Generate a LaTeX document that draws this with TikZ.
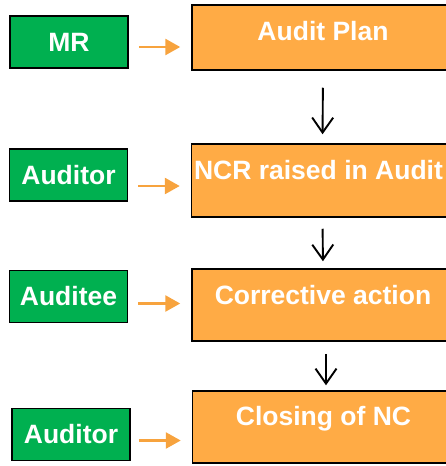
\documentclass[tikz,border=0pt]{standalone}
\usepackage{fontspec}
\setmainfont{Liberation Sans}
\usetikzlibrary{arrows.meta}
\definecolor{rolegreen}{HTML}{00B050}
\definecolor{stageorange}{HTML}{FFAB45}
\definecolor{feedorange}{HTML}{F7A33E}
\begin{document}
\begin{tikzpicture}[x=1pt,y=-1pt,
  role/.style={draw=black,line width=1.5pt,fill=rolegreen,text=white,
    minimum width=118pt,minimum height=52pt,inner sep=0pt,
    font=\fontsize{26.5}{30}\selectfont\bfseries},
  stage/.style={draw=black,line width=1.5pt,fill=stageorange,
    minimum width=262pt,inner sep=0pt},
  stagetext/.style={text=white,inner sep=0pt,anchor=base,
    font=\fontsize{26.5}{30}\selectfont\bfseries},
  flow/.style={-{Straight Barb[length=15pt,width=21pt]},line width=1.9pt},
  feed/.style={-{Triangle[length=15pt,width=16pt]},line width=2.7pt,
    draw=feedorange,shorten <=10pt,shorten >=11pt}]
\useasboundingbox (0,0) rectangle (446,466);
\clip (0,0) rectangle (446,466);

\node[role] (mr) at (69,42) {MR};
\node[role] (auditor) at (68.5,175) {Auditor};
\node[role] (auditee) at (68.5,296.5) {Auditee};
\node[role] (closer) at (71,434.5) {Auditor};

\node[stage,minimum height=65pt] (plan) at (323,37.5) {};
\node[stage,minimum height=73pt] (ncr) at (322.5,180.5) {};
\node[stage,minimum height=72pt] (action) at (323,305) {};
\node[stage,minimum height=72pt] (closing) at (323.5,427) {};

\node[stagetext] (plantext) at ([yshift=-36pt]plan.north) {Audit Plan};
\node[stagetext] (ncrtext) at ([xshift=-4pt,yshift=-36.5pt]ncr.north) {NCR raised in Audit};
\node[stagetext] (actiontext) at ([yshift=-36pt]action.north) {Corrective action};
\node[stagetext] (closingtext) at ([yshift=-35pt]closing.north) {Closing of NC};

\draw[flow,shorten <=17pt,shorten >=9pt] (plan.south) -- (ncr.north);
\draw[flow,shorten <=11pt,shorten >=7pt] (ncr.south) -- (action.north);
\draw[flow,shorten <=12pt,shorten >=5pt] ([xshift=3pt]action.south) -- ([xshift=2.5pt]closing.north);

\coordinate (mrout) at ([yshift=-5pt]mr.east);
\coordinate (auditorout) at ([yshift=-11pt]auditor.east);
\coordinate (auditeeout) at ([yshift=-7pt]auditee.east);
\coordinate (closerout) at ([yshift=-6pt]closer.east);
\draw[feed] (mrout) -- (mrout -| plan.west);
\draw[feed] (auditorout) -- (auditorout -| ncr.west);
\draw[feed] (auditeeout) -- (auditeeout -| action.west);
\draw[feed,shorten <=8pt] (closerout) -- (closerout -| closing.west);
\end{tikzpicture}
\end{document}
